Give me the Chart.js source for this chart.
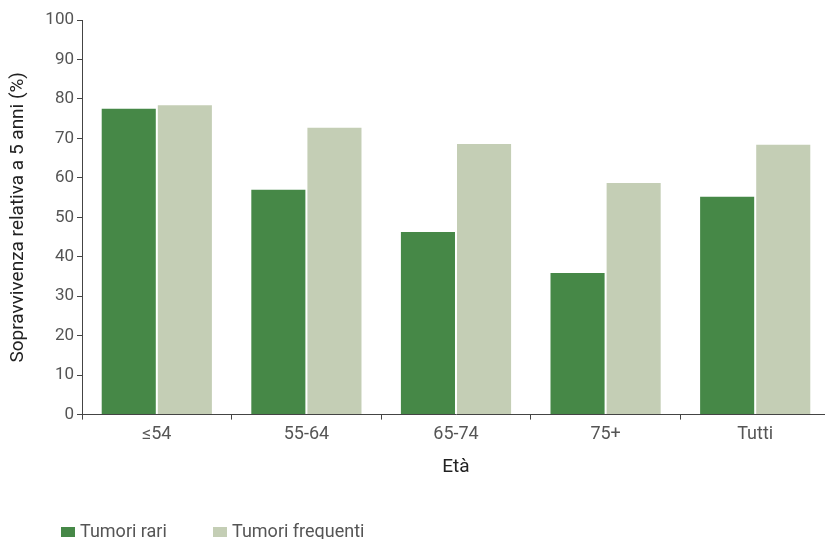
<!DOCTYPE html>
<html lang="it">
<head>
<meta charset="utf-8">
<title>Sopravvivenza relativa a 5 anni</title>
<script src="https://cdn.jsdelivr.net/npm/chart.js@4.4.0/dist/chart.umd.min.js"></script>
<style>
    html, body { margin: 0; padding: 0; background: #fff; overflow: hidden; }
    #wrap { width: 835px; height: 539px; }
</style>
</head>
<body>
<div id="wrap"><canvas id="survivalChart" width="835" height="539"></canvas></div>
<script>
// Dati
const ageGroups = ['≤54', '55-64', '65-74', '75+', 'Tutti'];
const rareTumours = [77.5, 57.0, 46.3, 35.9, 55.2];
const commonTumours = [78.4, 72.7, 68.6, 58.7, 68.4];
const yTicks = [0, 10, 20, 30, 40, 50, 60, 70, 80, 90, 100];

const FONT = 'Roboto, "Open Sans", sans-serif';
const TICK_COLOR = '#555';

// Legend drawn below the axis title, left aligned like the original
const bottomLegend = {
    id: 'bottomLegend',
    afterDraw(chart) {
        const ctx = chart.ctx;
        ctx.save();
        ctx.font = '18px ' + FONT;
        ctx.textBaseline = 'alphabetic';
        let x = 61;
        const baseline = 537;
        chart.data.datasets.forEach(ds => {
            ctx.fillStyle = ds.backgroundColor;
            ctx.fillRect(x, baseline - 10, 14, 10);
            ctx.fillStyle = TICK_COLOR;
            ctx.fillText(ds.label, x + 19, baseline);
            x += 152;
        });
        ctx.restore();
    }
};

document.addEventListener('DOMContentLoaded', function() {
    const ctx = document.getElementById('survivalChart').getContext('2d');
    new Chart(ctx, {
        type: 'bar',
        data: {
            labels: ageGroups,
            datasets: [{
                label: 'Tumori rari',
                data: rareTumours,
                backgroundColor: '#468847',
                categoryPercentage: 0.75,
                barPercentage: 0.964
            }, {
                label: 'Tumori frequenti',
                data: commonTumours,
                backgroundColor: '#c4ceb5',
                categoryPercentage: 0.75,
                barPercentage: 0.964
            }]
        },
        plugins: [bottomLegend],
        options: {
            responsive: false,
            animation: false,
            layout: { padding: { top: 20, right: 5, left: 0, bottom: 60 } },
            plugins: {
                tooltip: { enabled: false },
                legend: { display: false }
            },
            scales: {
                x: {
                    grid: { drawOnChartArea: false, tickLength: 5, color: '#444' },
                    border: { color: '#444', width: 1 },
                    ticks: { color: TICK_COLOR, padding: 4, font: { family: FONT, size: 18 } },
                    title: {
                        display: true,
                        text: 'Età',
                        color: '#222',
                        font: { family: FONT, size: 19 },
                        padding: { top: 7, bottom: 0 }
                    }
                },
                y: {
                    min: 0,
                    max: 100,
                    afterBuildTicks: function(scale) {
                        scale.ticks = yTicks.map(v => ({ value: v }));
                    },
                    afterFit: function(scale) { scale.width = 82; },
                    grid: { drawOnChartArea: false, tickLength: 5, color: '#444' },
                    border: { color: '#444', width: 1 },
                    ticks: { color: TICK_COLOR, padding: 3, font: { family: FONT, size: 17 } },
                    title: {
                        display: true,
                        text: 'Sopravvivenza relativa a 5 anni (%)',
                        color: '#222',
                        font: { family: FONT, size: 19 },
                        padding: { top: 7, bottom: 4 }
                    }
                }
            }
        }
    });
});
</script>
</body>
</html>
